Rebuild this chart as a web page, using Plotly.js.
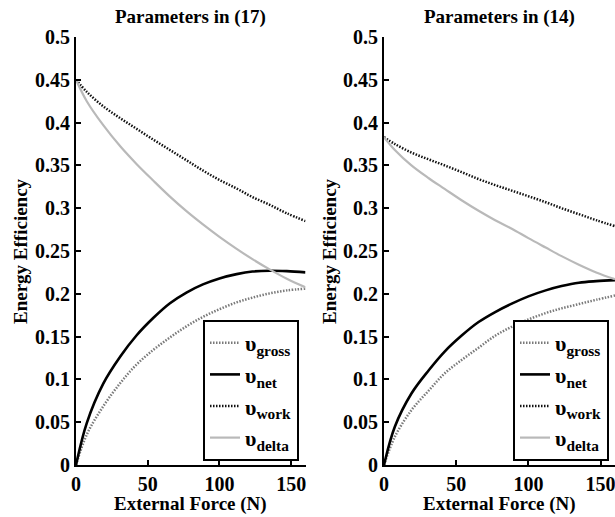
<!DOCTYPE html>
<html>
<head>
<meta charset="utf-8">
<script src="https://cdn.plot.ly/plotly-3.0.1.min.js"></script>
<style>html,body{margin:0;padding:0;background:#fff;}#chart{width:615px;height:517px;}</style>
</head>
<body>
<div id="chart"></div>
<script>
// External force (N)
const forceN = [0, 7.5, 19, 31, 42, 54, 65.5, 77, 88.5, 100, 112, 123, 135, 147, 160];

// Parameters in (17)
const grossL = [0, 0.0355, 0.0686, 0.096, 0.117, 0.1346, 0.149, 0.162, 0.173, 0.182, 0.190, 0.1955, 0.2005, 0.2040, 0.206];
const netL   = [0, 0.049, 0.095, 0.127, 0.151, 0.172, 0.189, 0.2015, 0.211, 0.218, 0.223, 0.226, 0.227, 0.2265, 0.225];
const workL  = [0.45, 0.436, 0.419, 0.405, 0.393, 0.380, 0.368, 0.356, 0.344, 0.333, 0.323, 0.313, 0.304, 0.294, 0.285];
const deltaL = [0.45, 0.425, 0.397, 0.372, 0.352, 0.332, 0.3135, 0.2965, 0.281, 0.2665, 0.2525, 0.2405, 0.2285, 0.2175, 0.2075];

// Parameters in (14)
const grossR = [0, 0.033, 0.064, 0.087, 0.107, 0.123, 0.137, 0.151, 0.1615, 0.170, 0.1775, 0.183, 0.188, 0.193, 0.198];
const netR   = [0, 0.0447, 0.0835, 0.1107, 0.1325, 0.1515, 0.167, 0.1787, 0.1885, 0.197, 0.204, 0.209, 0.213, 0.2148, 0.216];
const workR  = [0.383, 0.375, 0.365, 0.357, 0.350, 0.342, 0.334, 0.327, 0.3205, 0.314, 0.307, 0.300, 0.293, 0.286, 0.279];
const deltaR = [0.383, 0.368, 0.350, 0.335, 0.3225, 0.309, 0.297, 0.286, 0.276, 0.265, 0.254, 0.244, 0.234, 0.225, 0.217];

const seriesNames = ['υ<sub>gross</sub>', 'υ<sub>net</sub>', 'υ<sub>work</sub>', 'υ<sub>delta</sub>'];
const panelTitles = ['Parameters in (17)', 'Parameters in (14)'];
const xTitle = 'External Force (N)';
const yTitle = 'Energy Efficiency';
const xTicks = [0, 50, 100, 150];
const yTicks = [0, 0.05, 0.1, 0.15, 0.2, 0.25, 0.3, 0.35, 0.4, 0.45, 0.5];
const yTickText = ['0', '0.05', '0.1', '0.15', '0.2', '0.25', '0.3', '0.35', '0.4', '0.45', '0.5'];

const styles = [
  {color: '#7a7a7a', width: 2.5, dash: '1.5px,1.5px'},
  {color: '#000000', width: 2.6, dash: 'solid'},
  {color: '#111111', width: 2.5, dash: '1.5px,1.5px'},
  {color: '#b9b9b9', width: 2.2, dash: 'solid'}
];

const FONT = '"Liberation Serif", serif';

function mk(y, i, ax, leg) {
  return {
    x: forceN, y: y, type: 'scatter', mode: 'lines',
    name: seriesNames[i],
    line: Object.assign({shape: 'spline', smoothing: 1}, styles[i]),
    xaxis: 'x' + ax, yaxis: 'y' + ax, legend: leg, hoverinfo: 'skip'
  };
}

const data = [
  mk(grossL, 0, '', 'legend'), mk(netL, 1, '', 'legend'), mk(workL, 2, '', 'legend'), mk(deltaL, 3, '', 'legend'),
  mk(grossR, 0, '2', 'legend2'), mk(netR, 1, '2', 'legend2'), mk(workR, 2, '2', 'legend2'), mk(deltaR, 3, '2', 'legend2')
];

const W = 615, H = 517;
const yDom = [52 / H, 480 / H];
function xa(dom, anchor) {
  return {
    domain: dom, range: [0, 160], tickvals: xTicks, ticktext: xTicks.map(String), anchor: anchor,
    showline: true, linewidth: 2, linecolor: '#000', ticks: 'inside', ticklen: 5, tickwidth: 2, tickcolor: '#000',
    ticklabeloverflow: 'allow',
    showgrid: false, zeroline: false, tickfont: {family: FONT, size: 20, color: '#000', weight: 'bold'}
  };
}
function ya(anchor) {
  return {
    domain: yDom, range: [0, 0.5], tickvals: yTicks, ticktext: yTickText, anchor: anchor,
    showline: true, linewidth: 2, linecolor: '#000', ticks: 'inside', ticklen: 5, tickwidth: 2, tickcolor: '#000',
    showgrid: false, zeroline: false, tickfont: {family: FONT, size: 20, color: '#000', weight: 'bold'}
  };
}
function leg(xp) {
  return {
    x: xp, y: (H - 320) / H, xanchor: 'left', yanchor: 'top', xref: 'paper', yref: 'paper',
    bgcolor: '#fff', bordercolor: '#000', borderwidth: 2,
    font: {family: FONT, size: 22, color: '#000', weight: 'bold'}, itemwidth: 30
  };
}

const xDomL = [76 / W, 305.5 / W], xDomR = [384 / W, 1];
const ann = [];
const tfont = {family: FONT, size: 19, color: '#000', weight: 'bold'};
[[xDomL, 21], [xDomR, 330]].forEach((p, k) => {
  const cx = (p[0][0] + p[0][1]) / 2;
  ann.push({text: panelTitles[k], x: cx, y: (H - 17) / H, xref: 'paper', yref: 'paper', showarrow: false, xanchor: 'center', yanchor: 'middle', font: tfont});
  ann.push({text: xTitle, x: cx, y: (H - 504) / H, xref: 'paper', yref: 'paper', showarrow: false, xanchor: 'center', yanchor: 'middle', font: tfont});
  ann.push({text: yTitle, x: p[1] / W, y: (H - 251) / H, xref: 'paper', yref: 'paper', showarrow: false, xanchor: 'center', yanchor: 'middle', textangle: -90, font: tfont});
});

const layout = {
  width: W, height: H, margin: {l: 0, r: 0, t: 0, b: 0},
  paper_bgcolor: '#fff', plot_bgcolor: '#fff',
  font: {family: FONT, color: '#000', weight: 'bold'},
  xaxis: xa(xDomL, 'y'), yaxis: ya('x'),
  xaxis2: xa(xDomR, 'y2'), yaxis2: ya('x2'),
  legend: leg(203 / W), legend2: leg(513 / W),
  annotations: ann, showlegend: true
};

Plotly.newPlot('chart', data, layout, {displayModeBar: false, staticPlot: true});
</script>
</body>
</html>
